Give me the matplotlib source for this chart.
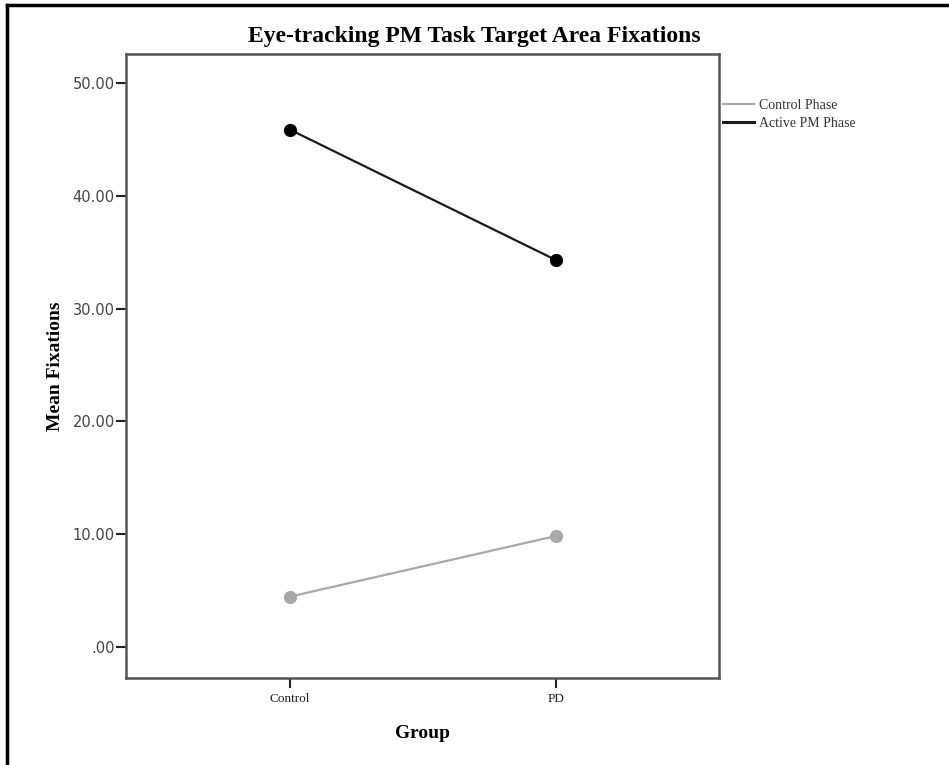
import matplotlib.pyplot as plt
from matplotlib.lines import Line2D

# data
groups = ["Control", "PD"]
control_phase = [4.45, 9.84]
active_pm_phase = [45.9, 34.3]
y_ticks = [0, 10, 20, 30, 40, 50]
y_tick_labels = [".00", "10.00", "20.00", "30.00", "40.00", "50.00"]

serif = ["Liberation Serif", "DejaVu Serif"]
light = "#a8a8a8"
dark = "#1a1a1a"

fig = plt.figure(figsize=(9.49, 7.65), dpi=100)
ax = fig.add_axes([0.1328, 0.1137, 0.6248, 0.8157])

x = list(range(len(groups)))
ax.plot(x, control_phase, color=light, lw=1.6, marker="o", ms=8.5,
        mfc=light, mec=light)
ax.plot(x, active_pm_phase, color=dark, lw=1.6, marker="o", ms=8.5,
        mfc="black", mec="black")

ax.set_xlim(-0.614, 1.61)
ax.set_ylim(-2.77, 52.6)
ax.set_xticks(x)
ax.set_xticklabels(groups, family=serif, fontsize=9.5, color="#222222")
ax.set_yticks(y_ticks)
ax.set_yticklabels(y_tick_labels, family="DejaVu Sans", fontsize=10.5, color="#444444")

for side in ["left", "bottom", "right", "top"]:
    ax.spines[side].set_color("#555555")
    ax.spines[side].set_linewidth(1.8)
ax.tick_params(axis="y", length=7, width=1.5, color="#222222", pad=1)
ax.tick_params(axis="x", length=7, width=1.5, color="#222222", pad=4)

ax.set_xlabel("Group", family=serif, fontsize=14, fontweight="bold", labelpad=14)
ax.set_ylabel("Mean Fixations", family=serif, fontsize=14, fontweight="bold", labelpad=6)
fig.text(0.4995, 0.952, "Eye-tracking PM Task Target Area Fixations", family=serif,
         fontsize=17, fontweight="bold", ha="center", va="center")

handles = [Line2D([], [], color=light, lw=1.6), Line2D([], [], color=dark, lw=2.2)]
leg = fig.legend(handles, ["Control Phase", "Active PM Phase"], loc="upper left",
                 bbox_to_anchor=(0.756, 0.878), frameon=False,
                 prop={"family": serif, "size": 10}, handlelength=2.2,
                 handletextpad=0.4, labelspacing=0.35, borderaxespad=0)
for t in leg.get_texts():
    t.set_color("#333333")

# page frame on the top and left edges
fig.add_artist(Line2D([0.0074, 0.0074], [0, 0.9935], color="black", lw=2.5,
                      transform=fig.transFigure))
fig.add_artist(Line2D([0.0074, 1], [0.9935, 0.9935], color="black", lw=2.5,
                      transform=fig.transFigure))

fig.savefig("out.png", dpi=100)
